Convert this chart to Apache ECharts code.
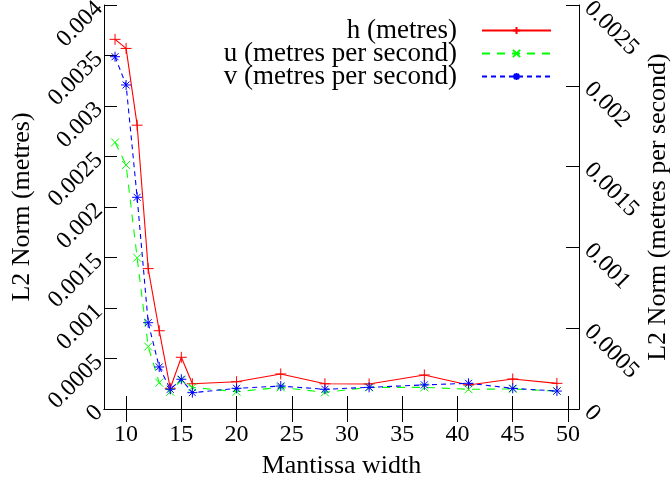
<!DOCTYPE html>
<html>
<head>
<meta charset="utf-8">
<script src="https://cdn.jsdelivr.net/npm/echarts@6/dist/echarts.min.js"></script>
<style>
html,body{margin:0;padding:0;background:#fff;}
#main{width:672px;height:478px;}
</style>
</head>
<body>
<div id="main"></div>
<script>
// mantissa widths
var widths = [9, 10, 11, 12, 13, 14, 15, 16, 20, 24, 28, 32, 37, 41, 45, 49];
// L2 norms
var hNorm = [0.00366, 0.00357, 0.00281, 0.00139, 0.000775, 0.000205, 0.000512, 0.00025, 0.00027, 0.000347, 0.00025, 0.000248, 0.000337, 0.000238, 0.000297, 0.000254];
var uNorm = [0.00165, 0.00151, 0.000936, 0.000386, 0.000163, 0.000107, 0.000179, 0.000134, 0.000107, 0.000134, 0.000103, 0.000134, 0.000134, 0.000122, 0.000124, 0.000111];
var vNorm = [0.00218, 0.002005, 0.00131, 0.000534, 0.00026, 0.000122, 0.000184, 0.000101, 0.000128, 0.000142, 0.000122, 0.000134, 0.000149, 0.000159, 0.000128, 0.000111];
var xTicks = [10, 15, 20, 25, 30, 35, 40, 45, 50];
var seriesNames = ['h (metres)', 'u (metres per second)', 'v (metres per second)'];

var FONT = 'Liberation Serif';

function pairs(ys){
    var out = [];
    for (var i = 0; i < widths.length; i++) {
        out.push([widths[i], ys[i]]);
    }
    return out;
}

var plusSym = 'path://M0,5L10,5M5,0L5,10';
var crossSym = 'path://M0,0L10,10M0,10L10,0';
var starSym = 'path://M0,5L10,5M5,0L5,10M1.5,1.5L8.5,8.5M1.5,8.5L8.5,1.5';

var axisLineStyle = {show: true, lineStyle: {color: '#000', width: 1}};

var myChart = echarts.init(document.getElementById('main'));
var option = {
    animation: false,
    backgroundColor: '#fff',
    textStyle: {fontFamily: FONT, color: '#000'},
    grid: {left: 104, right: 93, top: 5, bottom: 69, containLabel: false, outerBoundsMode: 'none'},
    legend: {
        orient: 'vertical',
        right: 115,
        top: 12,
        align: 'right',
        itemWidth: 69,
        itemHeight: 9,
        itemGap: -4,
        data: seriesNames,
        textStyle: {fontFamily: FONT, fontSize: 27, color: '#000', padding: [0, 20, 0, 0]}
    },
    xAxis: [{
        type: 'value',
        min: 8,
        max: 51,
        position: 'bottom',
        name: 'Mantissa width',
        nameLocation: 'middle',
        nameGap: 44,
        nameMoveOverlap: false,
        nameTextStyle: {fontFamily: FONT, fontSize: 26, color: '#000'},
        axisLine: axisLineStyle,
        axisTick: {show: true, inside: true, length: 13, customValues: xTicks, lineStyle: {color: '#000'}},
        axisLabel: {customValues: xTicks, fontFamily: FONT, fontSize: 24, color: '#000', margin: 14},
        splitLine: {show: false}
    }, {
        type: 'value',
        min: 8,
        max: 51,
        position: 'top',
        axisLine: axisLineStyle,
        axisTick: {show: true, inside: true, length: 13, customValues: xTicks, lineStyle: {color: '#000'}},
        axisLabel: {show: false},
        splitLine: {show: false}
    }],
    yAxis: [{
        type: 'value',
        min: 0,
        max: 0.004,
        interval: 0.0005,
        position: 'left',
        name: 'L2 Norm (metres)',
        nameLocation: 'middle',
        nameRotate: 90,
        nameGap: 69,
        nameMoveOverlap: false,
        nameTextStyle: {fontFamily: FONT, fontSize: 26, color: '#000'},
        axisLine: axisLineStyle,
        axisTick: {show: true, inside: true, length: 13, lineStyle: {color: '#000'}},
        axisLabel: {rotate: 45, fontFamily: FONT, fontSize: 24, color: '#000', margin: 5},
        splitLine: {show: false}
    }, {
        type: 'value',
        min: 0,
        max: 0.0025,
        interval: 0.0005,
        position: 'right',
        name: 'L2 Norm (metres per second)',
        nameLocation: 'middle',
        nameRotate: 90,
        nameGap: 66,
        nameMoveOverlap: false,
        nameTextStyle: {fontFamily: FONT, fontSize: 26, color: '#000'},
        axisLine: axisLineStyle,
        axisTick: {show: true, inside: true, length: 13, lineStyle: {color: '#000'}},
        axisLabel: {rotate: -45, fontFamily: FONT, fontSize: 24, color: '#000', margin: 9},
        splitLine: {show: false}
    }],
    series: [{
        name: seriesNames[0],
        type: 'line',
        xAxisIndex: 0,
        yAxisIndex: 0,
        data: pairs(hNorm),
        symbol: plusSym,
        symbolSize: 11,
        showAllSymbol: true,
        lineStyle: {color: '#ff0000', width: 1.1, type: 'solid'},
        itemStyle: {color: '#ff0000', borderColor: '#ff0000', borderWidth: 1}
    }, {
        name: seriesNames[1],
        type: 'line',
        xAxisIndex: 0,
        yAxisIndex: 1,
        data: pairs(uNorm),
        symbol: crossSym,
        symbolSize: 8,
        showAllSymbol: true,
        lineStyle: {color: '#00ff00', width: 1.1, type: [8, 7]},
        itemStyle: {color: '#00ff00', borderColor: '#00ff00', borderWidth: 1}
    }, {
        name: seriesNames[2],
        type: 'line',
        xAxisIndex: 0,
        yAxisIndex: 1,
        data: pairs(vNorm),
        symbol: starSym,
        symbolSize: 10,
        showAllSymbol: true,
        lineStyle: {color: '#0000ff', width: 1.1, type: [5, 4]},
        itemStyle: {color: '#0000ff', borderColor: '#0000ff', borderWidth: 1}
    }]
};
myChart.setOption(option);
</script>
</body>
</html>
